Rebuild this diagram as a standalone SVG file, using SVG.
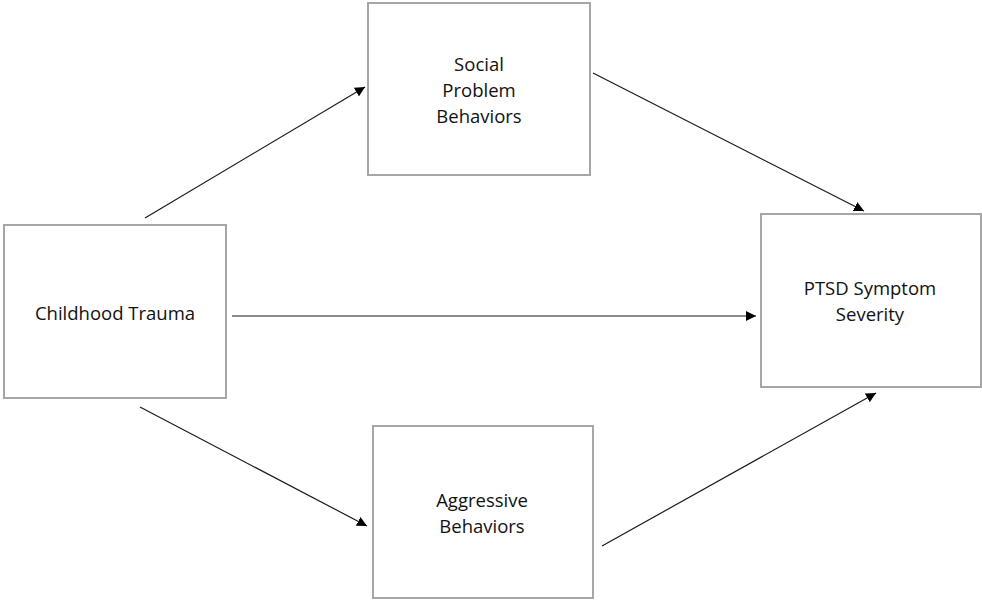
<svg xmlns="http://www.w3.org/2000/svg" width="982" height="601" viewBox="0 0 982 601">
  <style>
    .box { fill: #ffffff; stroke: #a6a6a6; stroke-width: 2; }
    .label { font-family: "Open Sans", "Liberation Sans", sans-serif; font-size: 18.5px; fill: #111111; text-anchor: middle; }
    .edge { stroke: #1a1a1a; stroke-width: 1.2; fill: none; marker-end: url(#arrow); }
  </style>
  <defs>
    <marker id="arrow" viewBox="0 0 10 10" refX="10" refY="5" markerWidth="10" markerHeight="10" markerUnits="userSpaceOnUse" orient="auto">
      <path d="M0,0 L10,5 L0,10 z" fill="#000000"/>
    </marker>
  </defs>
  <rect width="982" height="601" fill="#ffffff"/>

  <g id="childhood-trauma">
    <rect class="box" x="4" y="225" width="222" height="173"/>
    <text class="label" x="115" y="320">Childhood Trauma</text>
  </g>

  <g id="social-problem-behaviors">
    <rect class="box" x="368" y="3" width="222" height="172"/>
    <text class="label" x="479" y="71">Social</text>
    <text class="label" x="479" y="97">Problem</text>
    <text class="label" x="479" y="123">Behaviors</text>
  </g>

  <g id="ptsd-symptom-severity">
    <rect class="box" x="761" y="214" width="220" height="173"/>
    <text class="label" x="870" y="295">PTSD Symptom</text>
    <text class="label" x="870" y="321">Severity</text>
  </g>

  <g id="aggressive-behaviors">
    <rect class="box" x="373" y="426" width="220" height="172"/>
    <text class="label" x="482" y="507">Aggressive</text>
    <text class="label" x="482" y="533">Behaviors</text>
  </g>

  <g id="connectors">
    <line class="edge" x1="145" y1="218" x2="365" y2="87"/>
    <line class="edge" x1="593" y1="73" x2="864" y2="211"/>
    <line class="edge" x1="232" y1="316" x2="756" y2="316"/>
    <line class="edge" x1="140" y1="407" x2="367" y2="526"/>
    <line class="edge" x1="602" y1="546" x2="876" y2="393"/>
  </g>
</svg>
